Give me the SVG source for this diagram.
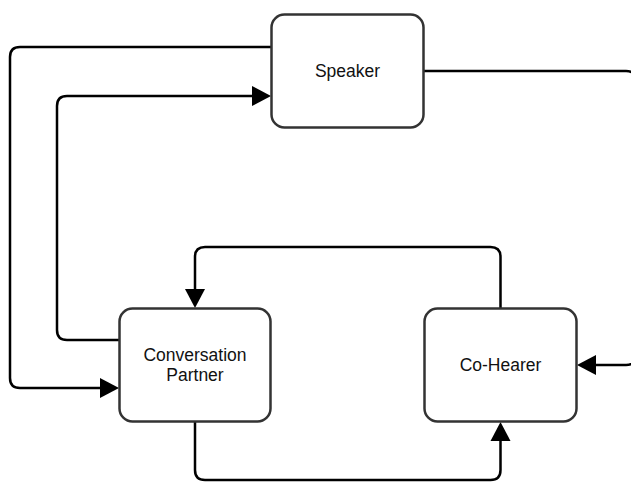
<svg xmlns="http://www.w3.org/2000/svg" width="631" height="482" viewBox="0 0 631 482">
<style>
.box{fill:#fff;stroke:#333;stroke-width:2.5}
.lbl{font-family:"Liberation Sans",Arial,sans-serif;font-size:17.5px;fill:#111;text-anchor:middle}
.edge{fill:none;stroke:#000;stroke-width:2.5;stroke-linejoin:round}
</style>
<defs>
<marker id="arr" markerUnits="userSpaceOnUse" markerWidth="22" markerHeight="24" viewBox="0 -12 22 24" refX="0" refY="0" orient="auto">
<path d="M0,-10 L19,0 L0,10 Z" fill="#000"/>
</marker>
</defs>
<rect width="631" height="482" fill="#fff"/>
<g id="connectors">
<path class="edge" d="M271,47 H20 Q10,47 10,57 V378 Q10,388 20,388 H100" marker-end="url(#arr)"/>
<path class="edge" d="M119,340 H67 Q57,340 57,330 V106 Q57,96 67,96 H252" marker-end="url(#arr)"/>
<path class="edge" d="M424,71 H626 Q636,71 636,81 V355 Q636,365 626,365 H596" marker-end="url(#arr)"/>
<path class="edge" d="M500.5,308 V257 Q500.5,247 490.5,247 H205 Q195,247 195,257 V289" marker-end="url(#arr)"/>
<path class="edge" d="M195,422 V470 Q195,480 205,480 H490.5 Q500.5,480 500.5,470 V441" marker-end="url(#arr)"/>
</g>
<g id="speaker">
<rect class="box" x="271.5" y="14.5" width="152" height="113" rx="13"/>
<text class="lbl" x="347.5" y="77">Speaker</text>
</g>
<g id="conversation-partner">
<rect class="box" x="119.5" y="308.5" width="151" height="113" rx="13"/>
<text class="lbl" x="195" y="361">Conversation</text>
<text class="lbl" x="195" y="381">Partner</text>
</g>
<g id="co-hearer">
<rect class="box" x="424.5" y="308.5" width="152" height="113" rx="13"/>
<text class="lbl" x="500.5" y="371">Co-Hearer</text>
</g>
</svg>
